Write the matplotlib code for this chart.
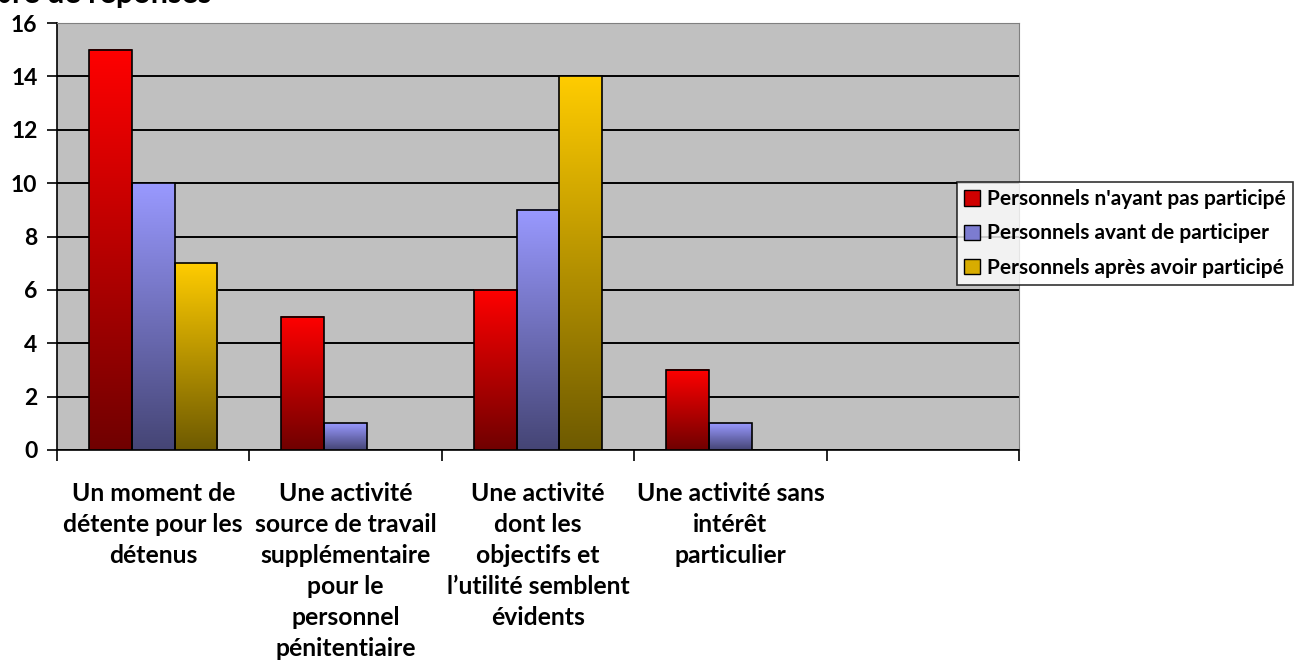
# Bar chart: réponses des personnels, with Excel-like gradient bars

import numpy as np
import matplotlib
matplotlib.use("Agg")
import matplotlib.pyplot as plt
from matplotlib.colors import LinearSegmentedColormap
from matplotlib.patches import Patch

plt.rcParams['font.family'] = ['Lato', 'DejaVu Sans']
plt.rcParams['font.weight'] = 'bold'

#%% Data
categories = ["Un moment de\ndétente pour les\ndétenus",
              "Une activité\nsource de travail\nsupplémentaire\npour le\npersonnel\npénitentiaire",
              "Une activité\ndont les\nobjectifs et\nl’utilité semblent\névidents",
              "Une activité sans\nintérêt\nparticulier",
              ""]
series_names = ["Personnels n'ayant pas participé",
                "Personnels avant de participer",
                "Personnels après avoir participé"]
pas_participe = [15, 5, 6, 3, 0]
avant = [10, 1, 9, 1, 0]
apres = [7, 0, 14, 0, 0]
yticks = [0, 2, 4, 6, 8, 10, 12, 14, 16]

# top colour, bottom colour of each gradient
grad_colors = [("#FF0000", "#700000"),
               ("#9999FF", "#454575"),
               ("#FFCC00", "#6E5A00")]

#%% Figure
fig = plt.figure(figsize=(12.99, 6.66), dpi=100)
ax = fig.add_axes([57/1299, 1-450/666, (1019-57)/1299, (450-23)/666])
ax.set_facecolor("#C0C0C0")

x = np.arange(len(categories))
w = 1/4.5
grad = np.linspace(1, 0, 256).reshape(-1, 1)
for i, (vals, cols) in enumerate(zip([pas_participe, avant, apres], grad_colors)):
    cmap = LinearSegmentedColormap.from_list("g%d" % i, [cols[1], cols[0]])
    bars = ax.bar(x + (i-1)*w, vals, width=w, facecolor="none",
                  edgecolor="black", linewidth=1.2, zorder=4)
    for b in bars:
        if b.get_height() <= 0:
            continue
        x0, y0 = b.get_x(), b.get_y()
        ax.imshow(grad, extent=[x0, x0+b.get_width(), y0, y0+b.get_height()],
                  aspect='auto', cmap=cmap, vmin=0, vmax=1, zorder=3)

ax.set_xlim(-0.5, len(categories)-0.5)
ax.set_ylim(0, 16)
ax.set_yticks(yticks)
ax.yaxis.grid(True, color="black", linewidth=1.4)
ax.set_axisbelow(True)
ax.tick_params(axis='y', length=7, width=1.2, labelsize=16.5, pad=7)

ax.set_xticks(x)
ax.set_xticklabels(categories, fontsize=17.8, linespacing=1.42, va='top')
ax.set_xticks(np.arange(len(categories)+1)-0.5, minor=True)
ax.tick_params(axis='x', which='major', length=0, pad=23)
ax.tick_params(axis='x', which='minor', length=8, width=1.2)

for s in ['top', 'right']:
    ax.spines[s].set_color("#808080")
for s in ['left', 'bottom']:
    ax.spines[s].set_linewidth(1.2)

handles = [Patch(facecolor=c, edgecolor="black") for c in
           ["#D00000", "#7C7CD0", "#D8AC00"]]
leg = fig.legend(handles, series_names, loc='upper left',
                 bbox_to_anchor=(957/1299, 1-182/666), fontsize=15,
                 frameon=True, fancybox=False, edgecolor="black",
                 handlelength=0.75, handleheight=0.75, handletextpad=0.35,
                 labelspacing=0.68, borderpad=0.35, borderaxespad=0)
leg.get_frame().set_linewidth(1.2)

fig.text(211/1299, 1-3/666, "Nombre de réponses", ha='right', va='baseline',
         fontsize=22)

plt.savefig("out.png", dpi=100)
